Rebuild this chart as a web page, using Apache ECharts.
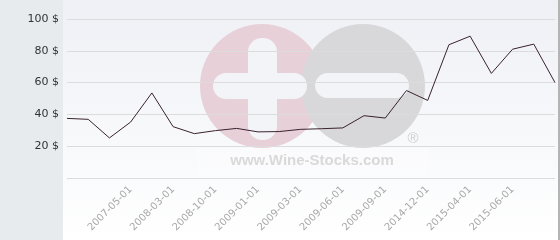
<!DOCTYPE html>
<html><head><meta charset="utf-8">
<script src="https://cdn.jsdelivr.net/npm/echarts@6/dist/echarts.min.js"></script>
<style>html,body{margin:0;padding:0;background:#fff}#c{width:560px;height:240px}</style>
</head><body><div id="c"></div>
<script>
const categories = ['', '', '', '2007-05-01', '', '2008-03-01', '', '2008-10-01', '', '2009-01-01', '', '2009-03-01',
  '', '2009-06-01', '', '2009-09-01', '', '2014-12-01', '', '2015-04-01', '', '2015-06-01', '', ''];
const prices = [37.5, 36.9, 25.2, 35.2, 53.5, 32.3, 27.9, 29.8, 31.2, 29.0, 29.2, 30.6,
  31.0, 31.5, 39.2, 37.7, 55.0, 48.8, 83.8, 89.2, 65.8, 81.0, 84.2, 60.0];
const yTicks = {min: 0, max: 100, interval: 20};

const chart = echarts.init(document.getElementById('c'), null, {renderer: 'canvas'});
chart.setOption({
  animation: false,
  textStyle: {fontFamily: 'DejaVu Sans'},
  grid: {left: 67, right: 5, top: 19, bottom: 62},
  graphic: [
    {type: 'rect', z: -20, silent: true, shape: {x: 0, y: 0, width: 63, height: 240}, style: {fill: '#e7ebee'}},
    {type: 'rect', z: -20, silent: true, shape: {x: 63, y: 0, width: 496, height: 240},
      style: {fill: new echarts.graphic.LinearGradient(0, 0, 0, 1, [{offset: 0, color: '#eef0f5'}, {offset: 1, color: '#ffffff'}])}},
    {type: 'rect', z: -20, silent: true, shape: {x: 558, y: 0, width: 2, height: 240}, style: {fill: '#b4b4b4'}},
    {type: 'rect', z: -19, silent: true, shape: {x: 197, y: 148, width: 232, height: 27}, style: {fill: 'rgba(255,255,255,0.3)'}},
    {type: 'circle', z: -18, silent: true, shape: {cx: 262, cy: 86, r: 62}, style: {fill: '#e8d0d8'}},
    {type: 'circle', z: -17, silent: true, shape: {cx: 363, cy: 86, r: 62}, style: {fill: '#d8d8da'}},
    {type: 'rect', z: -16, silent: true, shape: {x: 248, y: 38, width: 29, height: 102, r: 14}, style: {fill: '#f3f4f8'}},
    {type: 'rect', z: -16, silent: true, shape: {x: 213, y: 73, width: 94, height: 26, r: 13}, style: {fill: '#f3f4f8'}},
    {type: 'rect', z: -16, silent: true, shape: {x: 315, y: 73, width: 94, height: 25, r: 12.5}, style: {fill: '#f3f4f8'}},
    {type: 'text', z: -16, silent: true, style: {x: 312, y: 161, text: 'www.Wine-Stocks.com', fill: '#d9d9d9',
      font: 'bold 15px "Liberation Sans", Arial', textAlign: 'center', textVerticalAlign: 'middle'}},
    {type: 'text', z: -16, silent: true, style: {x: 413, y: 139, text: '®', fill: '#cfcfcf',
      font: '15px "Liberation Sans", Arial', textAlign: 'center', textVerticalAlign: 'middle'}}
  ],
  xAxis: {
    type: 'category', data: categories, boundaryGap: false,
    axisLine: {show: false}, axisTick: {show: false},
    axisLabel: {interval: 0, rotate: 45, color: '#a8a8a8', fontSize: 10, margin: 10}
  },
  yAxis: {
    type: 'value', min: yTicks.min, max: yTicks.max, interval: yTicks.interval,
    axisLine: {show: false}, axisTick: {show: false},
    axisLabel: {color: '#333', fontSize: 11, margin: 8, formatter: v => v === 0 ? '' : v + ' $'},
    splitLine: {lineStyle: {color: '#dcdcdc', width: 1}}
  },
  series: [{
    type: 'line', data: prices, showSymbol: false, symbol: 'none',
    lineStyle: {color: '#3a2230', width: 1}
  }]
});
</script></body></html>
